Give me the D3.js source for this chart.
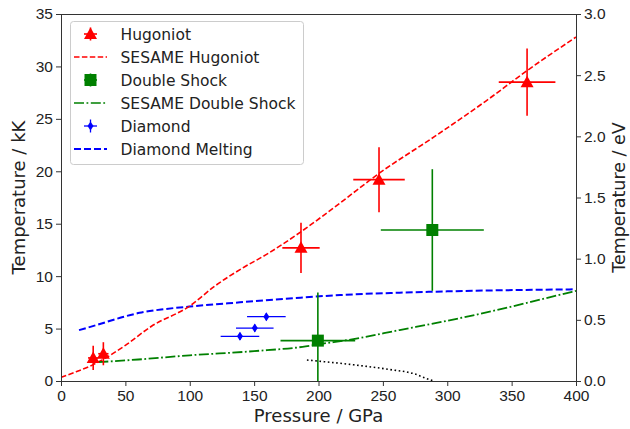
<!DOCTYPE html>
<html>
<head>
<meta charset="utf-8">
<script src="https://cdn.jsdelivr.net/npm/d3@7"></script>
<style>
  body { margin: 0; background: #fff; }
  svg { font-family: "DejaVu Sans", sans-serif; }
</style>
</head>
<body>
<svg id="chart" width="630" height="429"></svg>
<script>
"use strict"

// measured points
const hugP = [25, 32.9, 186.4, 247, 362]
const hugT = [2.2, 2.6, 12.7, 19.2, 28.5]
const hugPErr = [4, 4, 14.5, 20, 22]
const hugTErr = [1.15, 1.1, 2.4, 3.1, 3.2]

const dsP = [199.5, 288.4]
const dsT = [3.85, 14.4]
const dsPErr = [29, 40]
const dsTErr = [4.6, 5.8]

const diaP = [139, 150.5, 159.5]
const diaT = [4.26, 5.05, 6.13]
const diaPErr = [15, 14.6, 15]
const diaTErr = [0.35, 0.35, 0.35]

// model curves
const sesHugP = [0, 10, 25, 50, 70, 100, 120, 140, 160, 186, 217, 247, 290, 330, 362, 400]
const sesHugT = [0.35, 0.8, 1.56, 3.4, 5.2, 7.15, 9.1, 10.7, 12.1, 14.2, 17.0, 19.8, 23.3, 26.7, 29.6, 32.8]

const sesDsP = [29, 60, 100, 150, 190, 200, 226, 263, 300, 333, 365, 400]
const sesDsT = [1.8, 2.05, 2.45, 2.85, 3.3, 3.5, 3.97, 4.86, 5.75, 6.61, 7.55, 8.6]

const meltP = [14, 28, 48, 61, 80, 100, 139, 186, 217, 263, 300, 398]
const meltT = [4.85, 5.35, 6.1, 6.5, 6.85, 7.1, 7.5, 7.95, 8.2, 8.42, 8.55, 8.74]

const dotP = [191, 227, 255, 274, 287, 290]
const dotT = [2.0, 1.55, 1.1, 0.7, 0.1, 0]

const xTicks = [0, 50, 100, 150, 200, 250, 300, 350, 400]
const yTicks = [0, 5, 10, 15, 20, 25, 30, 35]
const eVTicks = [0, 0.5, 1, 1.5, 2, 2.5, 3]

const legendLabels = ["Hugoniot", "SESAME Hugoniot", "Double Shock", "SESAME Double Shock", "Diamond", "Diamond Melting"]

const margin = {top: 14, right: 54, bottom: 48, left: 61}
const width = 630 - margin.left - margin.right
const height = 429 - margin.top - margin.bottom

const svg = d3.select("#chart")
const g = svg.append("g").attr("transform", "translate(" + margin.left + "," + margin.top + ")")

const x = d3.scaleLinear().domain([0, 400]).range([0, width])
const y = d3.scaleLinear().domain([0, 35]).range([height, 0])
const yEV = d3.scaleLinear().domain([0, 3]).range([height, 0])

g.append("clipPath").attr("id", "plot-clip")
    .append("rect").attr("width", width).attr("height", height)

const plot = g.append("g").attr("clip-path", "url(#plot-clip)")

const zip = (a, b) => a.map((v, i) => [v, b[i]])
const line = d3.line().x(d => x(d[0])).y(d => y(d[1])).curve(d3.curveMonotoneX)

plot.append("path").datum(zip(meltP, meltT))
    .attr("d", line).attr("fill", "none")
    .attr("stroke", "#0000ff").attr("stroke-width", 2).attr("stroke-dasharray", "7,3")

plot.append("path").datum(zip(sesHugP, sesHugT))
    .attr("d", line).attr("fill", "none")
    .attr("stroke", "#ff0000").attr("stroke-width", 1.6).attr("stroke-dasharray", "5.5,2.4")

plot.append("path").datum(zip(sesDsP, sesDsT))
    .attr("d", line).attr("fill", "none")
    .attr("stroke", "#008000").attr("stroke-width", 1.8).attr("stroke-dasharray", "10,2.5,1.8,2.5")

plot.append("path").datum(zip(dotP, dotT))
    .attr("d", line).attr("fill", "none")
    .attr("stroke", "#000").attr("stroke-width", 1.6).attr("stroke-dasharray", "1.6,2.6")

function errorbars(P, T, PE, TE, color, sw) {
    const eb = plot.append("g").attr("stroke", color).attr("stroke-width", sw)
    P.forEach((p, i) => {
        eb.append("line")
            .attr("x1", x(p - PE[i])).attr("x2", x(p + PE[i]))
            .attr("y1", y(T[i])).attr("y2", y(T[i]))
        eb.append("line")
            .attr("x1", x(p)).attr("x2", x(p))
            .attr("y1", y(T[i] - TE[i])).attr("y2", y(T[i] + TE[i]))
    })
}

const triangle = "M0,-6.5L6.5,5L-6.5,5Z"
const square = "M-6,-6H6V6H-6Z"
const diamond = "M0,-4.5L3,0L0,4.5L-3,0Z"

errorbars(diaP, diaT, diaPErr, diaTErr, "#0000ff", 1.3)
plot.selectAll(".dia").data(zip(diaP, diaT)).enter().append("path")
    .attr("class", "dia").attr("d", diamond).attr("fill", "#0000ff")
    .attr("transform", d => "translate(" + x(d[0]) + "," + y(d[1]) + ")")

errorbars(dsP, dsT, dsPErr, dsTErr, "#008000", 1.6)
plot.selectAll(".ds").data(zip(dsP, dsT)).enter().append("path")
    .attr("class", "ds").attr("d", square).attr("fill", "#008000")
    .attr("transform", d => "translate(" + x(d[0]) + "," + y(d[1]) + ")")

errorbars(hugP, hugT, hugPErr, hugTErr, "#ff0000", 1.6)
plot.selectAll(".hug").data(zip(hugP, hugT)).enter().append("path")
    .attr("class", "hug").attr("d", triangle).attr("fill", "#ff0000")
    .attr("transform", d => "translate(" + x(d[0]) + "," + y(d[1]) + ")")

// axes
const tickFont = "15.5px"
const styleAxis = sel => {
    sel.selectAll("text").style("font-size", tickFont).attr("fill", "#222")
    sel.selectAll("line, path").attr("stroke", "#333")
}

g.append("g").attr("transform", "translate(0," + height + ")")
    .call(d3.axisBottom(x).tickValues(xTicks).tickSize(5).tickPadding(4).tickSizeOuter(0))
    .call(styleAxis)

g.append("g")
    .call(d3.axisLeft(y).tickValues(yTicks).tickSize(5).tickPadding(3).tickSizeOuter(0))
    .call(styleAxis)

g.append("g").attr("transform", "translate(" + width + ",0)")
    .call(d3.axisRight(yEV).tickValues(eVTicks).tickFormat(d3.format(".1f")).tickSize(5).tickPadding(3).tickSizeOuter(0))
    .call(styleAxis)

g.append("line").attr("x1", 0).attr("x2", width).attr("y1", 0.5).attr("y2", 0.5)
    .attr("stroke", "#333")

// labels
g.append("text").attr("x", width / 2).attr("y", height + 40.5)
    .attr("text-anchor", "middle").style("font-size", "18px").attr("fill", "#222")
    .text("Pressure / GPa")

svg.append("text").attr("transform", "translate(25," + (margin.top + height / 2) + ") rotate(-90)")
    .attr("text-anchor", "middle").style("font-size", "18px").attr("fill", "#222")
    .text("Temperature / kK")

svg.append("text").attr("transform", "translate(625," + (margin.top + height / 2) + ") rotate(-90)")
    .attr("text-anchor", "middle").style("font-size", "17.5px").attr("fill", "#222")
    .text("Temperature / eV")

// legend
const leg = svg.append("g")
leg.append("rect").attr("x", 70.5).attr("y", 21.5).attr("width", 233).attr("height", 143)
    .attr("rx", 3).attr("fill", "#fff").attr("fill-opacity", 0.85).attr("stroke", "#ccc")

const rowY = i => 34 + i * 23
const lx0 = 74, lx1 = 107, lmid = 90.5

function legendMarker(i, color, shape, sw) {
    const row = leg.append("g").attr("transform", "translate(" + lmid + "," + rowY(i) + ")")
    row.append("line").attr("x1", -6.5).attr("x2", 6.5).attr("stroke", color).attr("stroke-width", sw)
    row.append("line").attr("y1", -6.5).attr("y2", 6.5).attr("stroke", color).attr("stroke-width", sw)
    row.append("path").attr("d", shape).attr("fill", color)
}
function legendLine(i, color, dash, sw) {
    leg.append("line").attr("x1", lx0).attr("x2", lx1).attr("y1", rowY(i)).attr("y2", rowY(i))
        .attr("stroke", color).attr("stroke-width", sw).attr("stroke-dasharray", dash)
}

legendMarker(0, "#ff0000", triangle, 1.6)
legendLine(1, "#ff0000", "5.5,2.4", 1.6)
legendMarker(2, "#008000", square, 1.6)
legendLine(3, "#008000", "10,2.5,1.8,2.5", 1.6)
legendMarker(4, "#0000ff", diamond, 1.3)
legendLine(5, "#0000ff", "7,3", 2)

leg.selectAll(".ltext").data(legendLabels).enter().append("text")
    .attr("class", "ltext")
    .attr("x", 120.5).attr("y", (d, i) => rowY(i)).attr("dy", "0.36em")
    .style("font-size", "15.5px").attr("fill", "#222")
    .text(d => d)
</script>
</body>
</html>
